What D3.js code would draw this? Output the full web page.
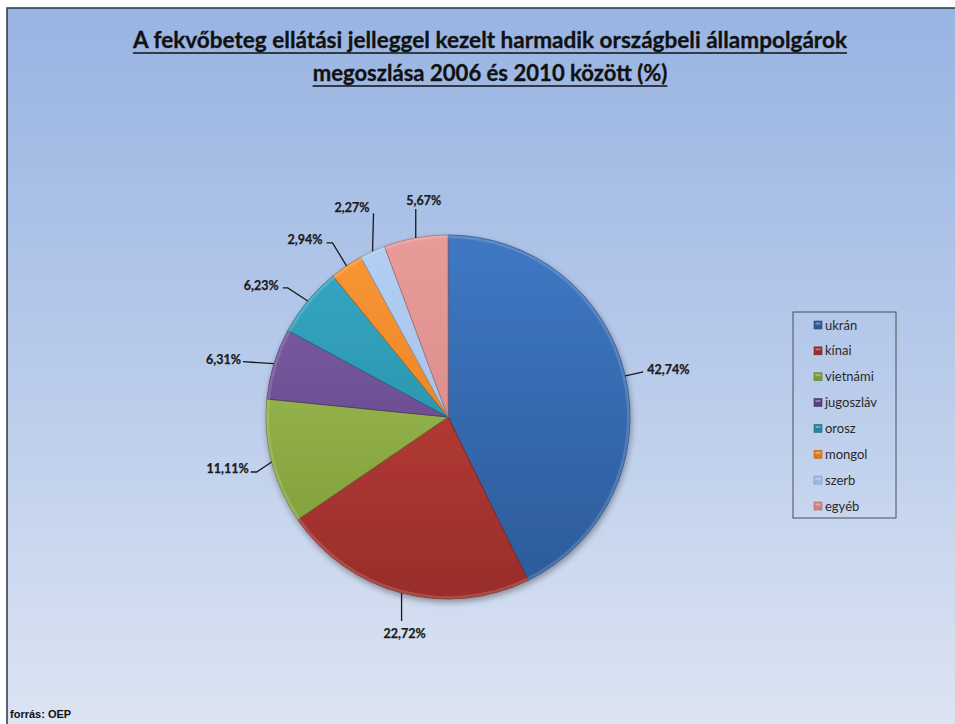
<!DOCTYPE html>
<html>
<head>
<meta charset="utf-8">
<script src="https://cdn.jsdelivr.net/npm/d3@7/dist/d3.min.js"></script>
<style>
  html, body { margin: 0; padding: 0; background: #ffffff; overflow: hidden; }
  svg { display: block; }
</style>
</head>
<body>
<svg id="chart" width="955" height="724"></svg>
<script>
// Nationalities of third-country patients in inpatient care, 2006–2010 (%)
const categories = ["ukrán", "kínai", "vietnámi", "jugoszláv", "orosz", "mongol", "szerb", "egyéb"];
const shares = [42.74, 22.72, 11.11, 6.31, 6.23, 2.94, 2.27, 5.67];
const valueLabels = ["42,74%", "22,72%", "11,11%", "6,31%", "6,23%", "2,94%", "2,27%", "5,67%"];
const titleLines = [
  "A fekvőbeteg ellátási jelleggel kezelt harmadik országbeli állampolgárok",
  "megoszlása 2006 és 2010 között (%)"
];
const sourceText = "forrás: OEP";

// slice colours: [light top, dark bottom]
const palette = [
  ["#3f78c4", "#2c5a98"],
  ["#c9463f", "#982d2a"],
  ["#a6c658", "#7a9837"],
  ["#8060a8", "#5a3e7f"],
  ["#35a9c4", "#24849d"],
  ["#f99636", "#e07a1a"],
  ["#b3cff3", "#9ab8e4"],
  ["#e89c9a", "#d28280"]
];

const W = 955, H = 724;
const svg = d3.select("#chart");
const defs = svg.append("defs");

// background panel
const bg = defs.append("linearGradient").attr("id", "bg")
  .attr("x1", 0).attr("y1", 0).attr("x2", 0).attr("y2", 1);
bg.append("stop").attr("offset", "0%").attr("stop-color", "#98b4e2");
bg.append("stop").attr("offset", "45%").attr("stop-color", "#b6c9ea");
bg.append("stop").attr("offset", "100%").attr("stop-color", "#dfe6f3");

svg.append("rect").attr("x", 7).attr("y", 8).attr("width", W + 20).attr("height", H + 20)
  .attr("fill", "url(#bg)").attr("stroke", "#2b3447").attr("stroke-width", 1.5);

// title
const titleFont = "Lato, 'Open Sans', sans-serif";
const titleG = svg.append("g");
const titleCx = 490;
const titleBase = [48, 81];
const titleTargetW = [714, 355];
titleLines.forEach((line, i) => {
  const t = titleG.append("text")
    .attr("x", titleCx).attr("y", titleBase[i])
    .attr("text-anchor", "middle")
    .attr("font-family", titleFont).attr("font-weight", 700)
    .attr("font-size", 20).attr("fill", "#111")
    .attr("stroke", "#111").attr("stroke-width", 0.3)
    .text(line);
  const w0 = t.node().getComputedTextLength();
  const fs = 20 * titleTargetW[i] / w0;
  t.attr("font-size", fs);
  const w = t.node().getComputedTextLength();
  titleG.append("line")
    .attr("x1", titleCx - w / 2).attr("x2", titleCx + w / 2)
    .attr("y1", titleBase[i] + 5).attr("y2", titleBase[i] + 5)
    .attr("stroke", "#111").attr("stroke-width", 1.6);
});

// pie
const cx = 448, cy = 417, R = 182;
const pie = d3.pie().sort(null).value(d => d)
  .startAngle(0).endAngle(2 * Math.PI);
const arcs = pie(shares);
const arc = d3.arc().innerRadius(0).outerRadius(R);
const rimArc = d3.arc().innerRadius(R - 3).outerRadius(R);

palette.forEach((c, i) => {
  const g = defs.append("linearGradient").attr("id", "sl" + i)
    .attr("gradientUnits", "userSpaceOnUse")
    .attr("x1", 0).attr("y1", -R).attr("x2", 0).attr("y2", R);
  g.append("stop").attr("offset", "0%").attr("stop-color", c[0]);
  g.append("stop").attr("offset", "100%").attr("stop-color", c[1]);
});

const shadow = defs.append("filter").attr("id", "shadow")
  .attr("x", "-20%").attr("y", "-20%").attr("width", "140%").attr("height", "140%");
shadow.append("feGaussianBlur").attr("in", "SourceAlpha").attr("stdDeviation", 3).attr("result", "b");
shadow.append("feOffset").attr("in", "b").attr("dx", 1).attr("dy", 3).attr("result", "o");
shadow.append("feComponentTransfer").attr("in", "o").attr("result", "s")
  .append("feFuncA").attr("type", "linear").attr("slope", 0.35);
const sm = shadow.append("feMerge");
sm.append("feMergeNode").attr("in", "s");
sm.append("feMergeNode").attr("in", "SourceGraphic");

const pieG = svg.append("g").attr("transform", `translate(${cx},${cy})`);
const sliceG = pieG.append("g").attr("filter", "url(#shadow)");
sliceG.selectAll("path.slice").data(arcs).join("path")
  .attr("class", "slice")
  .attr("d", arc)
  .attr("fill", (d, i) => `url(#sl${i})`)
  .attr("stroke", (d, i) => d3.color(palette[i][1]).darker(0.6))
  .attr("stroke-width", 0.8)
  .attr("stroke-linejoin", "round");
// bevel rim on the outer edge
sliceG.selectAll("path.rim").data(arcs).join("path")
  .attr("class", "rim")
  .attr("d", rimArc)
  .attr("fill", "#ffffff").attr("fill-opacity", 0.15);

// leader lines and value labels (offsets relative to the slice's outer mid point)
const labelFont = "Lato, 'Open Sans', sans-serif";
const labelLayout = [
  { pts: [[18, -4]], tx: 22, ty: -2, anchor: "start" },
  { pts: [[0, 28]], tx: 3, ty: 45, anchor: "middle" },
  { pts: [[-15, 10], [-21, 10]], tx: -23, ty: 11, anchor: "end" },
  { pts: [[-31, -2]], tx: -33, ty: 0, anchor: "end" },
  { pts: [[-20, -13], [-25, -13]], tx: -29, ty: -11, anchor: "end" },
  { pts: [[-14, -23], [-20, -23]], tx: -24, ty: -22, anchor: "end" },
  { pts: [[1, -38]], tx: -3, ty: -39, anchor: "end" },
  { pts: [[0, -29]], tx: 8, ty: -33, anchor: "middle" }
];
const lblG = svg.append("g");
arcs.forEach((d, i) => {
  const a = (d.startAngle + d.endAngle) / 2;
  const ax = cx + R * Math.sin(a), ay = cy - R * Math.cos(a);
  const L = labelLayout[i];
  const pts = [[ax, ay]].concat(L.pts.map(p => [ax + p[0], ay + p[1]]));
  lblG.append("path")
    .attr("d", d3.line()(pts))
    .attr("fill", "none").attr("stroke", "#1a1a1a").attr("stroke-width", 1.3);
  lblG.append("text")
    .attr("x", ax + L.tx).attr("y", ay + L.ty)
    .attr("text-anchor", L.anchor)
    .attr("font-family", labelFont).attr("font-weight", 700)
    .attr("font-size", 12.5).attr("fill", "#1a1a1a")
    .attr("stroke", "#1a1a1a").attr("stroke-width", 0.25)
    .text(valueLabels[i]);
});

// legend
const legX = 793, legY = 312, legW = 103, legH = 206;
const legG = svg.append("g");
legG.append("rect").attr("x", legX).attr("y", legY).attr("width", legW).attr("height", legH)
  .attr("fill", "none").attr("stroke", "#4a4f5a").attr("stroke-width", 1);
const legScale = d3.scalePoint().domain(categories).range([legY + 13, legY + legH - 12]);
categories.forEach((c, i) => {
  const y = legScale(c);
  legG.append("rect").attr("x", 814).attr("y", y - 4).attr("width", 8).attr("height", 8)
    .attr("fill", `url(#sl${i})`)
    .attr("stroke", d3.color(palette[i][1]).darker(0.5)).attr("stroke-width", 0.6);
  legG.append("rect").attr("x", 815.5).attr("y", y - 2.5).attr("width", 5).attr("height", 2)
    .attr("fill", "#fff").attr("fill-opacity", 0.35);
  legG.append("text").attr("x", 825).attr("y", y + 4.5)
    .attr("font-family", labelFont).attr("font-size", 13).attr("fill", "#2a2a2a")
    .text(c);
});

// source note
svg.append("text").attr("x", 10).attr("y", 718)
  .attr("font-family", "'Liberation Sans', Arial, sans-serif").attr("font-weight", 700)
  .attr("font-size", 11).attr("fill", "#111")
  .text(sourceText);
</script>
</body>
</html>
